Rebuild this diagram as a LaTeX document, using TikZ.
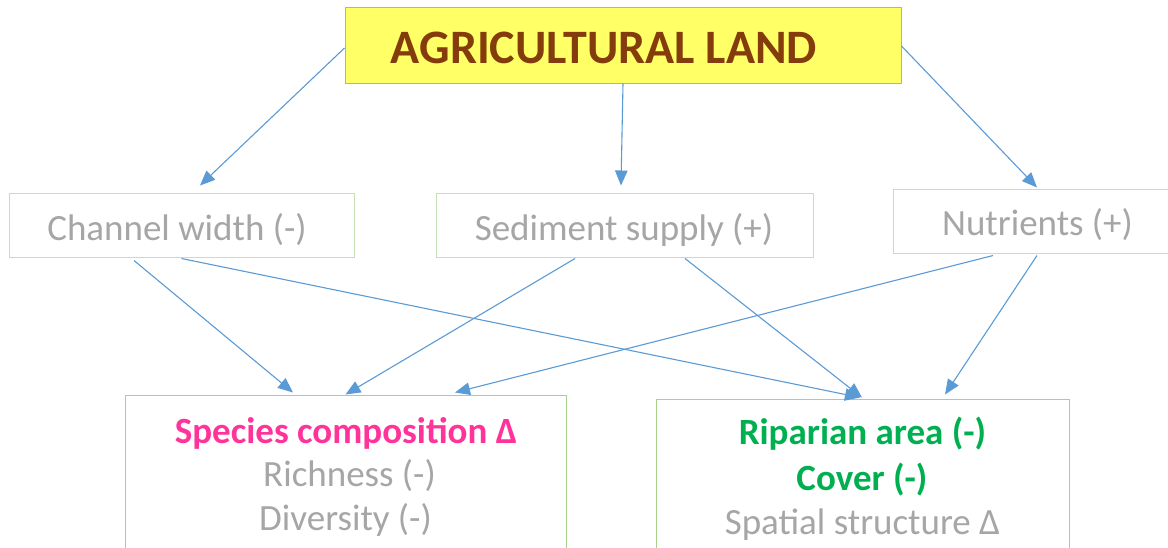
\documentclass[tikz,border=0pt]{standalone}
\usepackage{fontspec}
\setmainfont{Carlito}
\usetikzlibrary{arrows.meta}
\definecolor{arrowblue}{HTML}{5B9BD5}
\definecolor{boxgreen}{HTML}{C5E0B4}
\definecolor{boxgreenb}{HTML}{A9D18E}
\definecolor{txtgray}{HTML}{A6A6A6}
\definecolor{agyellow}{HTML}{FFFF66}
\definecolor{agbrown}{HTML}{843C0C}
\definecolor{spink}{HTML}{FF3399}
\definecolor{rgreen}{HTML}{00B050}
\tikzset{
  box/.style={draw=boxgreen, line width=1pt, rectangle, inner sep=0pt},
  bigbox/.style={draw=boxgreenb, line width=1pt, rectangle, inner sep=0pt},
  topbox/.style={draw=arrowblue!70, fill=agyellow, line width=1pt, rectangle, inner sep=0pt},
  lbl/.style={inner sep=0pt, anchor=base, text=txtgray, font=\fontsize{37}{44}\selectfont},
  conn/.style={draw=arrowblue, line width=1.1pt, -{Triangle[length=15pt,width=12.5pt]}}
}
\begin{document}
\begin{tikzpicture}[x=1pt,y=-1pt]
\useasboundingbox (0,0) rectangle (1168,547);
\clip (0,0) rectangle (1168,547);
\fill[white] (0,0) rectangle (1168,547);
% boxes
\node[topbox, minimum width=556pt, minimum height=76pt] (ag) at (623,45) {};
\node[box, minimum width=345pt, minimum height=64pt] (cw) at (181.5,225) {};
\node[box, minimum width=377pt, minimum height=64pt] (ss) at (624.5,225) {};
\node[box, minimum width=275pt, minimum height=64pt] (nu) at (1030.5,221) {};
\node[bigbox, minimum width=441pt, minimum height=225pt] (sp) at (345.5,507.5) {};
\node[bigbox, minimum width=413pt, minimum height=221pt] (ri) at (862.5,509.5) {};
% texts
\node[lbl, text=agbrown, font=\fontsize{48}{55}\selectfont\bfseries] (agt) at (604,63) {AGRICULTURAL LAND};
\node[lbl] (cwt) at (177,240) {Channel width (-)};
\node[lbl] (sst) at (624,240) {Sediment supply (+)};
\node[lbl] (nut) at (1037.5,235) {Nutrients (+)};
\node[lbl, text=spink, font=\fontsize{37}{44}\selectfont\bfseries] (spt) at (346,443) {Species composition Δ};
\node[lbl] (rit1) at (349.5,486) {Richness (-)};
\node[lbl] (rit2) at (345.5,530) {Diversity (-)};
\node[lbl, text=rgreen, font=\fontsize{37}{44}\selectfont\bfseries] (rpt) at (862.5,444) {Riparian area (-)};
\node[lbl, text=rgreen, font=\fontsize{37}{44}\selectfont\bfseries] (cvt) at (862,490) {Cover (-)};
\node[lbl] (sst2) at (862.5,534) {Spatial structure Δ};
% connectors
\draw[conn] ([yshift=-3pt]ag.west) -- ([xshift=18.5pt,yshift=7pt]cw.north);
\draw[conn] (ag.south) -- ([xshift=-3.5pt,yshift=7pt]ss.north);
\draw[conn] ([yshift=-1pt]ag.east) -- ([xshift=6.5pt,yshift=1pt]nu.north);
\draw[conn] ([xshift=-47.5pt,yshift=-3pt]cw.south) -- ([xshift=-52.5pt,yshift=2pt]sp.north);
\draw[conn] ([yshift=-1pt]cw.south) -- ([xshift=-2.5pt,yshift=1pt]ri.north);
\draw[conn] ([xshift=-49.5pt,yshift=-1pt]ss.south) -- (sp.north);
\draw[conn] ([xshift=60.5pt,yshift=-1pt]ss.south) -- ([xshift=-0.5pt,yshift=1pt]ri.north);
\draw[conn] ([xshift=-37.5pt,yshift=-2pt]nu.south) -- ([xshift=109.5pt,yshift=2pt]sp.north);
\draw[conn] ([xshift=6.5pt,yshift=-2pt]nu.south) -- ([xshift=82.5pt,yshift=4pt]ri.north);
\end{tikzpicture}
\end{document}
